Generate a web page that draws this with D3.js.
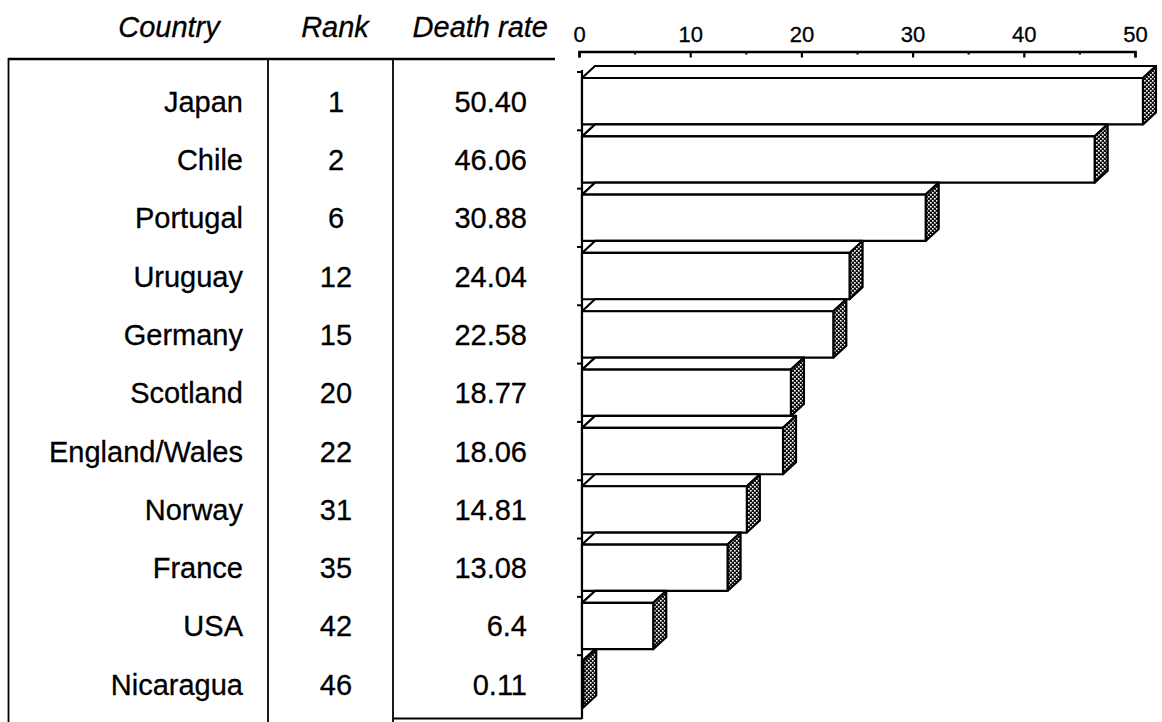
<!DOCTYPE html>
<html>
<head>
<meta charset="utf-8">
<script src="https://cdn.jsdelivr.net/npm/d3@7"></script>
<style>
  html, body { margin: 0; padding: 0; background: #fff; }
  svg { display: block; }
  text { font-family: "Liberation Sans", Arial, Helvetica, sans-serif; fill: #000; stroke: #000; stroke-width: 0.3px; }
</style>
</head>
<body>
<svg id="chart" width="1162" height="722"></svg>
<script>
// Table columns
const countries = ["Japan", "Chile", "Portugal", "Uruguay", "Germany", "Scotland",
                   "England/Wales", "Norway", "France", "USA", "Nicaragua"];
const ranks = ["1", "2", "6", "12", "15", "20", "22", "31", "35", "42", "46"];
const deathRates = ["50.40", "46.06", "30.88", "24.04", "22.58", "18.77",
                    "18.06", "14.81", "13.08", "6.4", "0.11"];
const headers = ["Country", "Rank", "Death rate"];
const axisTicks = [0, 10, 20, 30, 40, 50];
const minorTicks = [5, 15, 25, 35, 45];

const rows = countries.map((c, i) => ({
  country: c, rank: ranks[i], label: deathRates[i], value: parseFloat(deathRates[i])
}));

const svg = d3.select("#chart");

// Scales
const axisX = d3.scaleLinear().domain([0, 50]).range([579, 1135]);
const barX = d3.scaleLinear().domain([0, 50]).range([582, 1138.5]);
const y = d3.scaleBand().domain(countries).range([66, 707.5]).paddingInner(0).paddingOuter(0);

const depthX = 13, depthY = 12;   // 3-D extrusion of each bar
const fontBody = 29;

// Stipple fill for the bar ends
const defs = svg.append("defs");
const pat = defs.append("pattern").attr("id", "stipple")
  .attr("width", 4).attr("height", 4).attr("patternUnits", "userSpaceOnUse");
pat.append("rect").attr("width", 4).attr("height", 4).attr("fill", "#111");
pat.append("rect").attr("x", 0).attr("y", 0).attr("width", 1.6).attr("height", 1.6).attr("fill", "#fff");
pat.append("rect").attr("x", 2).attr("y", 2).attr("width", 1.6).attr("height", 1.6).attr("fill", "#fff");

// ---- Table ----
const table = svg.append("g").attr("class", "table");
const headerPos = [
  { x: 169, anchor: "middle" },
  { x: 335, anchor: "middle" },
  { x: 548, anchor: "end" }
];

table.selectAll("text.header").data(headers).join("text")
  .attr("class", "header")
  .attr("x", (d, i) => headerPos[i].x)
  .attr("y", 37)
  .attr("text-anchor", (d, i) => headerPos[i].anchor)
  .attr("font-size", 29)
  .attr("font-style", "italic")
  .text(d => d);

const line = (x1, y1, x2, y2, w) => table.append("line")
  .attr("x1", x1).attr("y1", y1).attr("x2", x2).attr("y2", y2)
  .attr("stroke", "#000").attr("stroke-width", w);

line(8, 59, 555, 59, 2.4);       // top rule
line(8.5, 58, 8.5, 722, 1.8);    // left edge
line(268, 58, 268, 722, 1.8);    // country | rank
line(393, 58, 393, 722, 1.8);    // rank | rate
line(393, 718.5, 582, 718.5, 2); // bottom of rate column

const textY = d => y(d.country) + depthY + (y.bandwidth() - depthY) / 2 + fontBody * 0.36;

table.selectAll("text.country").data(rows).join("text")
  .attr("class", "country")
  .attr("x", 243).attr("y", textY)
  .attr("text-anchor", "end").attr("font-size", fontBody)
  .text(d => d.country);

table.selectAll("text.rank").data(rows).join("text")
  .attr("class", "rank")
  .attr("x", 336).attr("y", textY)
  .attr("text-anchor", "middle").attr("font-size", fontBody)
  .text(d => d.rank);

table.selectAll("text.rate").data(rows).join("text")
  .attr("class", "rate")
  .attr("x", 527).attr("y", textY)
  .attr("text-anchor", "end").attr("font-size", fontBody)
  .text(d => d.label);

// ---- Top value axis ----
const axisY = 51.5;
const axisG = svg.append("g").attr("transform", `translate(0,${axisY})`)
  .call(d3.axisTop(axisX).tickValues(axisTicks).tickSize(-6).tickSizeOuter(-6).tickPadding(10));
axisG.selectAll("path.domain").attr("stroke-width", 2.4);
axisG.selectAll(".tick line").attr("stroke-width", 2.2);
axisG.selectAll(".tick text")
  .attr("font-size", 22)
  .attr("font-family", "Liberation Sans, Arial, sans-serif")
  .attr("fill", "#000");

const minorG = svg.append("g").attr("transform", `translate(0,${axisY})`)
  .call(d3.axisTop(axisX).tickValues(minorTicks).tickSize(-3).tickFormat(""));
minorG.select("path.domain").remove();
minorG.selectAll(".tick line").attr("stroke-width", 2.2);

// ---- Category axis ----
const x0 = barX(0);
svg.append("line")
  .attr("x1", x0).attr("x2", x0)
  .attr("y1", y.range()[0] + 4).attr("y2", 719)
  .attr("stroke", "#000").attr("stroke-width", 2.2);

svg.append("g").selectAll("line").data(rows).join("line")
  .attr("x1", x0 - 5).attr("x2", x0)
  .attr("y1", d => y(d.country) + depthY / 2)
  .attr("y2", d => y(d.country) + depthY / 2)
  .attr("stroke", "#000").attr("stroke-width", 2);

// ---- 3-D bars ----
const bars = svg.append("g").attr("class", "bars")
  .attr("stroke", "#000").attr("stroke-width", 2.2).attr("stroke-linejoin", "round");

const geom = d => {
  const xl = barX(0), xr = barX(d.value);
  const yt = y(d.country) + depthY;          // top of front face
  const yb = y(d.country) + y.bandwidth();   // bottom of front face
  return { xl, xr, yt, yb };
};

const g = bars.selectAll("g.bar").data(rows).join("g").attr("class", "bar");

// top face
g.append("path")
  .attr("fill", "#fff")
  .attr("d", d => {
    const { xl, xr, yt } = geom(d);
    return `M${xl},${yt} L${xl + depthX},${yt - depthY} L${xr + depthX},${yt - depthY} L${xr},${yt} Z`;
  });

// end face
g.append("path")
  .attr("fill", "url(#stipple)")
  .attr("d", d => {
    const { xr, yt, yb } = geom(d);
    return `M${xr},${yt} L${xr + depthX},${yt - depthY} L${xr + depthX},${yb - depthY} L${xr},${yb} Z`;
  });

// front face
g.append("rect")
  .attr("fill", "#fff")
  .attr("x", d => geom(d).xl)
  .attr("y", d => geom(d).yt)
  .attr("width", d => Math.max(0, geom(d).xr - geom(d).xl))
  .attr("height", d => geom(d).yb - geom(d).yt);
</script>
</body>
</html>
